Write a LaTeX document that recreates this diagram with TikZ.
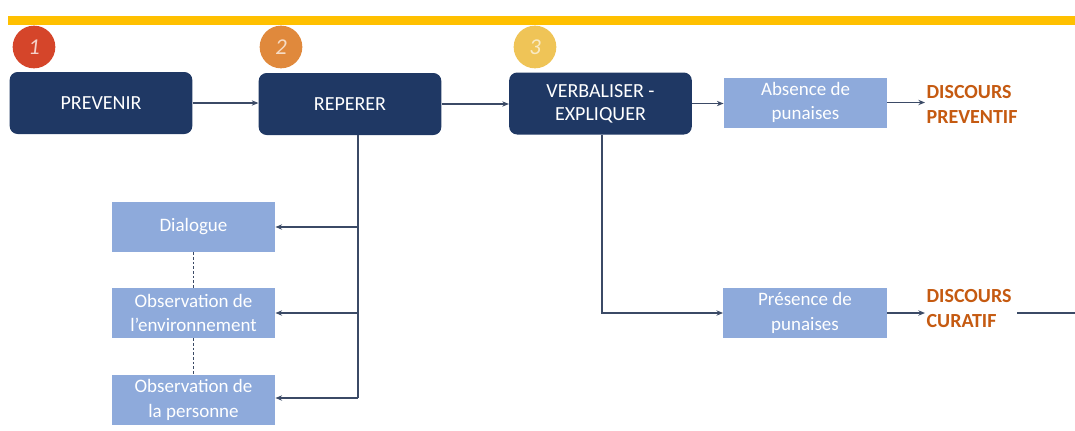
\documentclass[tikz,border=0pt]{standalone}
\usepackage{fontspec}
\setmainfont{Carlito}
\usetikzlibrary{arrows.meta,calc}
\definecolor{navy}{HTML}{1F3864}
\definecolor{lightb}{HTML}{8EAADB}
\definecolor{arrowc}{HTML}{3B4A66}
\definecolor{ocre}{HTML}{C55A11}
\definecolor{barcol}{HTML}{FFC000}
\definecolor{c1}{HTML}{D5452A}
\definecolor{c2}{HTML}{E0893C}
\definecolor{c3}{HTML}{EFC457}
\tikzset{
  darkbox/.style={draw=none,fill=navy,rounded corners=6pt,minimum width=137pt,minimum height=46.5pt,
    text=white,font=\fontsize{15pt}{17pt}\selectfont,align=center,inner sep=1pt},
  lightbox/.style={draw=none,fill=lightb,minimum width=122.5pt,minimum height=37.5pt,
    text=white,font=\fontsize{14.25pt}{18.5pt}\selectfont,align=center,inner sep=1pt},
  disc/.style={text=ocre,font=\bfseries\fontsize{15pt}{18.75pt}\selectfont,align=left,anchor=west,inner sep=1pt},
  num/.style={circle,minimum size=32pt,inner sep=0pt,font=\itshape\fontsize{17pt}{17pt}\selectfont},
  conn/.style={draw=arrowc,line width=0.9pt,-{Stealth[length=5pt,width=4pt]}},
  plain/.style={draw=arrowc,line width=0.9pt},
  dots/.style={draw=arrowc,line width=0.9pt,dash pattern=on 2pt off 1.5pt},
  topbar/.style={draw=barcol,line width=6.75pt}
}
\begin{document}
\begin{tikzpicture}[x=0.75pt,y=-0.75pt]
\useasboundingbox (0,0) rectangle (1075,430);
\coordinate (barL) at (8,20);
\coordinate (barR) at (1075,20);
\draw[topbar] (barL) -- (barR);
\node[num,fill=c1,text=c1!25] (n1) at (34,47) {1};
\node[num,fill=c2,text=c2!30] (n2) at (281,47) {2};
\node[num,fill=c3,text=c3!35] (n3) at (535,47) {3};

\node[darkbox] (prev) at (101,103) {PREVENIR};
\node[darkbox] (rep) at (350,104) {REPERER};
\node[darkbox] (verb) at (600.5,103.5) {VERBALISER -\\EXPLIQUER};
\node[lightbox] (abs) at (805.5,102.5) {Absence de\\punaises};
\node[disc] (d1) at (925,104) {DISCOURS\\PREVENTIF};

\node[lightbox] (dia) at (193.5,227) {Dialogue};
\node[lightbox] (env) at (193.5,313) {Observation de\\l’environnement};
\node[lightbox] (per) at (193.5,400) {Observation de\\la personne};

\node[lightbox] (pres) at (805,313) {Présence de\\punaises};
\node[disc] (d2) at (925,309) {DISCOURS\\CURATIF};
\coordinate (edge) at (1075,313);
\coordinate (rj) at (358,398);
\coordinate (vj) at (602,313);

\draw[conn] (prev.east) -- (rep.west |- prev.east);
\draw[conn] (rep.east) -- (verb.west |- rep.east);
\draw[conn] (verb.east) -- (abs.west |- verb.east);
\draw[conn] (abs.east) -- (d1.west |- abs.east);

\draw[plain] (rep.south -| rj) -- (rj);
\draw[conn] (rj) -- (per.east |- rj);
\draw[conn] (rj |- dia.east) -- (dia.east);
\draw[conn] (rj |- env.east) -- (env.east);
\draw[dots] (dia.south) -- (env.north);
\draw[dots] (env.south) -- (per.north);

\draw[conn] (verb.south -| vj) -- (vj) -- (pres.west);
\draw[conn] (pres.east) -- (d2.west |- pres.east);
\draw[plain] (d2.east |- edge) ++(4,0) -- (edge);
\end{tikzpicture}
\end{document}
